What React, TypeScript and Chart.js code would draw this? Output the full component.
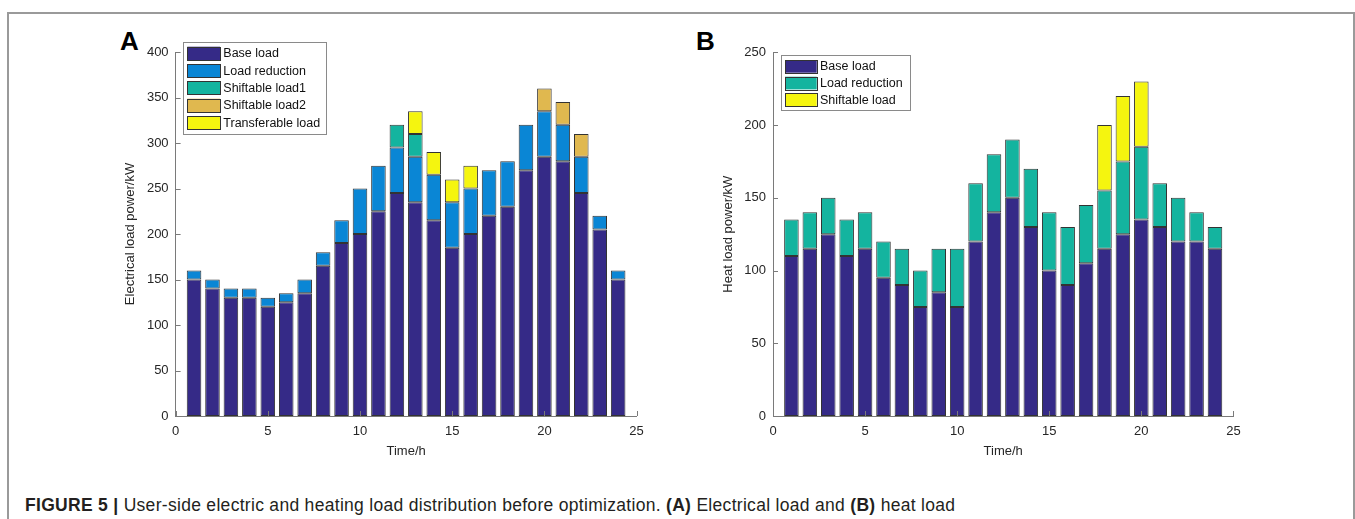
import React, { useEffect, useRef } from "react";
import { Chart, registerables } from "chart.js";

Chart.register(...registerables);

// ---------------- data ----------------
const hours = [1, 2, 3, 4, 5, 6, 7, 8, 9, 10, 11, 12, 13, 14, 15, 16, 17, 18, 19, 20, 21, 22, 23, 24];
const xTicks = [0, 5, 10, 15, 20, 25];

// Panel A: electrical load (kW)
const elecBase = [150, 140, 130, 130, 120, 125, 135, 165, 190, 200, 225, 245, 235, 215, 185, 200, 220, 230, 270, 285, 280, 245, 205, 150];
const elecReduction = [10, 10, 10, 10, 10, 10, 15, 15, 25, 50, 50, 50, 50, 50, 50, 50, 50, 50, 50, 50, 40, 40, 15, 10];
const elecShift1 = [0, 0, 0, 0, 0, 0, 0, 0, 0, 0, 0, 25, 25, 0, 0, 0, 0, 0, 0, 0, 0, 0, 0, 0];
const elecShift2 = [0, 0, 0, 0, 0, 0, 0, 0, 0, 0, 0, 0, 0, 0, 0, 0, 0, 0, 0, 25, 25, 25, 0, 0];
const elecTransfer = [0, 0, 0, 0, 0, 0, 0, 0, 0, 0, 0, 0, 25, 25, 25, 25, 0, 0, 0, 0, 0, 0, 0, 0];
const elecYTicks = [0, 50, 100, 150, 200, 250, 300, 350, 400];

// Panel B: heat load (kW)
const heatBase = [110, 115, 125, 110, 115, 95, 90, 75, 85, 75, 120, 140, 150, 130, 100, 90, 105, 115, 125, 135, 130, 120, 120, 115];
const heatReduction = [25, 25, 25, 25, 25, 25, 25, 25, 30, 40, 40, 40, 40, 40, 40, 40, 40, 40, 50, 50, 30, 30, 20, 15];
const heatShift = [0, 0, 0, 0, 0, 0, 0, 0, 0, 0, 0, 0, 0, 0, 0, 0, 0, 45, 45, 45, 0, 0, 0, 0];
const heatYTicks = [0, 50, 100, 150, 200, 250];

// ---------------- styles ----------------
const FONT = "'Liberation Sans', Arial, Helvetica, sans-serif";
const AXIS_COLOR = "#7a7a7a";
const TEXT_COLOR = "#262626";
const BAR_EDGE = "#333333";
const C_BASE = "#352a87";
const C_BLUE = "#0a86d5";
const C_TEAL = "#14b49f";
const C_ORANGE = "#e0b84f";
const C_YELLOW = "#f5f50f";

type Series = { label: string; values: number[]; color: string };
type LegendSpec = {
  dx: number; dy: number; w: number; h: number;
  rowTop: number; rowGap: number; patchX: number; patchW: number; patchH: number; textX: number;
};
type Spec = {
  left: number; top: number; width: number; height: number;
  padding: { left: number; right: number; top: number; bottom: number };
  yWidth: number; xHeight: number;
  yMax: number; yTicks: number[]; yTitle: string;
  series: Series[];
  legend: LegendSpec;
};

const inwardTicks = {
  id: "inwardTicks",
  afterDatasetsDraw(chart: any) {
    const { ctx, chartArea, scales } = chart;
    ctx.save();
    ctx.strokeStyle = AXIS_COLOR;
    ctx.lineWidth = 1;
    ctx.beginPath();
    scales.y.ticks.forEach((t: any) => {
      const py = Math.round(scales.y.getPixelForValue(t.value)) + 0.5;
      ctx.moveTo(chartArea.left, py);
      ctx.lineTo(chartArea.left + 5, py);
    });
    scales.x.ticks.forEach((t: any) => {
      const px = Math.round(scales.x.getPixelForValue(t.value)) + 0.5;
      ctx.moveTo(px, chartArea.bottom);
      ctx.lineTo(px, chartArea.bottom - 5);
    });
    ctx.stroke();
    ctx.restore();
  },
};

function boxLegend(spec: LegendSpec) {
  return {
    id: "boxLegend",
    afterDraw(chart: any) {
      const { ctx, chartArea } = chart;
      const x0 = chartArea.left + spec.dx;
      const y0 = chartArea.top + spec.dy;
      ctx.save();
      ctx.fillStyle = "#ffffff";
      ctx.fillRect(x0, y0, spec.w, spec.h);
      ctx.strokeStyle = "#8a8a8a";
      ctx.lineWidth = 1;
      ctx.strokeRect(Math.round(x0) + 0.5, Math.round(y0) + 0.5, Math.round(spec.w), Math.round(spec.h));
      ctx.font = `12.5px ${FONT}`;
      ctx.textBaseline = "middle";
      ctx.textAlign = "left";
      chart.data.datasets.forEach((ds: any, i: number) => {
        const py = y0 + spec.rowTop + i * spec.rowGap;
        ctx.fillStyle = ds.backgroundColor;
        ctx.fillRect(x0 + spec.patchX, py, spec.patchW, spec.patchH);
        ctx.strokeStyle = BAR_EDGE;
        ctx.strokeRect(Math.round(x0 + spec.patchX) + 0.5, Math.round(py) + 0.5, Math.round(spec.patchW), Math.round(spec.patchH));
        ctx.fillStyle = "#111111";
        ctx.fillText(ds.label, x0 + spec.textX, py + spec.patchH / 2 + 0.5);
      });
      ctx.restore();
    },
  };
}

function LoadChart({ spec }: { spec: Spec }) {
  const ref = useRef<HTMLCanvasElement>(null);
  useEffect(() => {
    if (!ref.current) return;
    const chart = new Chart(ref.current, {
      type: "bar",
      data: {
        datasets: spec.series.map((s) => ({
          label: s.label,
          data: hours.map((h, i) => ({ x: h, y: s.values[i] === 0 ? null : s.values[i] })),
          backgroundColor: s.color,
          borderColor: BAR_EDGE,
          borderWidth: 1,
          borderSkipped: false,
          barPercentage: 0.79,
          categoryPercentage: 1,
        })),
      } as any,
      options: {
        responsive: false,
        animation: false,
        devicePixelRatio: 1,
        layout: { padding: spec.padding },
        plugins: { legend: { display: false }, tooltip: { enabled: false } },
        scales: {
          x: {
            type: "linear",
            stacked: true,
            min: 0,
            max: 25,
            offset: false,
            grid: { display: false, drawTicks: false, offset: false },
            border: { display: true, color: AXIS_COLOR, width: 1 },
            afterBuildTicks: (s: any) => {
              s.ticks = xTicks.map((v) => ({ value: v }));
            },
            ticks: {
              padding: 8,
              color: TEXT_COLOR,
              font: { family: FONT, size: 13 },
              maxRotation: 0,
              autoSkip: false,
            },
            title: { display: true, text: "Time/h", color: TEXT_COLOR, font: { family: FONT, size: 13 }, padding: 0 },
            afterFit: (s: any) => {
              s.height = spec.xHeight;
            },
          },
          y: {
            type: "linear",
            stacked: true,
            min: 0,
            max: spec.yMax,
            grid: { display: false, drawTicks: false },
            border: { display: true, color: AXIS_COLOR, width: 1 },
            afterBuildTicks: (s: any) => {
              s.ticks = spec.yTicks.map((v) => ({ value: v }));
            },
            ticks: {
              padding: 7,
              color: TEXT_COLOR,
              font: { family: FONT, size: 13 },
            },
            title: { display: true, text: spec.yTitle, color: TEXT_COLOR, font: { family: FONT, size: 13 }, padding: 0 },
            afterFit: (s: any) => {
              s.width = spec.yWidth;
            },
          },
        },
      } as any,
      plugins: [inwardTicks, boxLegend(spec.legend)],
    });
    return () => chart.destroy();
  }, [spec]);
  return (
    <canvas
      ref={ref}
      width={spec.width}
      height={spec.height}
      style={{ position: "absolute", left: spec.left, top: spec.top, width: spec.width, height: spec.height }}
    />
  );
}

const specA: Spec = {
  left: 120,
  top: 30,
  width: 540,
  height: 440,
  padding: { left: 3, right: 23.4, top: 22, bottom: 11.2 },
  yWidth: 52.6,
  xHeight: 42.8,
  yMax: 400,
  yTicks: elecYTicks,
  yTitle: "Electrical load power/kW",
  series: [
    { label: "Base load", values: elecBase, color: C_BASE },
    { label: "Load reduction", values: elecReduction, color: C_BLUE },
    { label: "Shiftable load1", values: elecShift1, color: C_TEAL },
    { label: "Shiftable load2", values: elecShift2, color: C_ORANGE },
    { label: "Transferable load", values: elecTransfer, color: C_YELLOW },
  ],
  legend: { dx: 7.7, dy: -10.3, w: 143, h: 92, rowTop: 5, rowGap: 17.33, patchX: 4, patchW: 32.7, patchH: 13.3, textX: 40 },
};

const specB: Spec = {
  left: 715,
  top: 30,
  width: 545,
  height: 440,
  padding: { left: 6, right: 26.6, top: 22.3, bottom: 11.2 },
  yWidth: 52,
  xHeight: 42.8,
  yMax: 250,
  yTicks: heatYTicks,
  yTitle: "Heat load power/kW",
  series: [
    { label: "Base load", values: heatBase, color: C_BASE },
    { label: "Load reduction", values: heatReduction, color: C_TEAL },
    { label: "Shiftable load", values: heatShift, color: C_YELLOW },
  ],
  legend: { dx: 8, dy: 2.7, w: 129, h: 55, rowTop: 5, rowGap: 16.7, patchX: 4, patchW: 31.7, patchH: 12.7, textX: 39 },
};

const panelLabel = {
  position: "absolute" as const,
  top: 28,
  fontSize: 26,
  lineHeight: "26px",
  fontWeight: "bold" as const,
  color: "#000",
};

export default function App() {
  return (
    <div
      style={{
        position: "absolute",
        left: 0,
        top: 0,
        width: 1355,
        height: 519,
        overflow: "hidden",
        background: "#ffffff",
        fontFamily: FONT,
      }}
    >
      <div
        style={{
          position: "absolute",
          left: 7,
          top: 12,
          width: 1348,
          height: 600,
          boxSizing: "border-box",
          border: "2px solid #9a9a9a",
        }}
      />
      <div style={{ ...panelLabel, left: 120 }}>A</div>
      <div style={{ ...panelLabel, left: 696 }}>B</div>
      <LoadChart spec={specA} />
      <LoadChart spec={specB} />
      <div
        style={{
          position: "absolute",
          left: 25,
          top: 497,
          fontSize: 17.5,
          lineHeight: "17.5px",
          letterSpacing: "0.3px",
          color: "#231f20",
          whiteSpace: "nowrap",
        }}
      >
        <b>FIGURE 5 |</b> User-side electric and heating load distribution before optimization. <b>(A)</b> Electrical load and{" "}
        <b>(B)</b> heat load
      </div>
    </div>
  );
}
